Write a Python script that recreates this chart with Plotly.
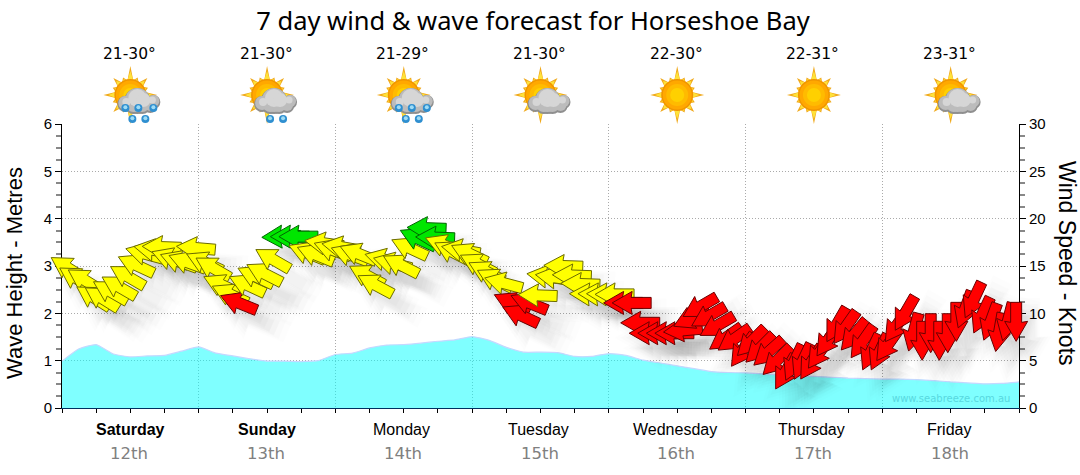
import math
import plotly.graph_objects as go

TITLE = "7 day wind & wave forecast for Horseshoe Bay"
Y_TITLE_LEFT = "Wave Height - Metres"
Y_TITLE_RIGHT = "Wind Speed - Knots"
DAYS = ["Saturday", "Sunday", "Monday", "Tuesday", "Wednesday", "Thursday", "Friday"]
DATES = ["12th", "13th", "14th", "15th", "16th", "17th", "18th"]
TEMPS = ["21-30°", "21-30°", "21-29°", "21-30°", "22-30°", "22-31°", "23-31°"]
ICONS = ["rain", "drizzle", "rain", "cloud", "sun", "sun", "cloud"]

WAVE_HOURS = list(range(0, 169, 3))
WAVE_M = [0.99, 1.25, 1.34, 1.14, 1.08, 1.10, 1.11, 1.20, 1.29, 1.16, 1.10, 1.04, 0.99, 0.99, 0.98, 1.00, 1.13,
          1.16, 1.27, 1.33, 1.34, 1.37, 1.41, 1.44, 1.51, 1.43, 1.28, 1.18, 1.18, 1.17, 1.09, 1.09, 1.15, 1.11,
          1.01, 0.95, 0.89, 0.83, 0.77, 0.75, 0.74, 0.72, 0.70, 0.67, 0.67, 0.65, 0.63, 0.62, 0.61, 0.61, 0.60,
          0.58, 0.55, 0.53, 0.51, 0.52, 0.55]

WIND_HOURS = [1 + 1.5 * i for i in range(112)]
WIND_KT = [14.8, 13.7, 13.5, 11.7, 11.6, 12.3, 12.8, 13.9, 15.1, 16.3, 16.7, 17.0, 15.8, 15.5, 15.4, 16.9,
           15.4, 14.8, 13.0, 12.0, 11.1, 13.0, 13.9, 14.2, 15.7, 18.1, 18.1, 18.1, 16.4, 16.2, 17.4, 16.7,
           17.0, 16.2, 16.3, 14.0, 13.0, 15.7, 15.3, 15.1, 16.9, 17.9, 19.0, 18.0, 17.2, 16.5, 16.7, 16.3,
           15.2, 14.4, 13.6, 13.2, 11.1, 9.8, 11.1, 11.9, 13.9, 13.8, 15.0, 14.0, 13.1, 12.0, 12.0, 12.0,
           12.0, 11.1, 11.1, 9.0, 7.9, 7.9, 7.9, 7.9, 8.2, 9.5, 10.7, 9.7, 8.7, 7.4, 7.3, 6.1,
           7.0, 6.3, 5.9, 5.0, 3.8, 4.8, 4.9, 4.8, 5.9, 7.2, 8.8, 8.5, 7.7, 7.0, 5.9, 5.9,
           6.7, 8.7, 10.0, 8.0, 7.1, 7.9, 7.1, 7.9, 9.1, 10.4, 11.4, 9.8, 9.1, 8.0, 9.1, 9.1]
WIND_HEADING = [302, 302, 302, 302, 302, 300, 300, 300, 295, 285, 280, 272, 290, 290, 290, 275,
                295, 300, 295, 295, 292, 295, 295, 297, 300, 268, 270, 270, 292, 292, 278, 290,
                280, 290, 292, 298, 298, 285, 285, 297, 295, 295, 272, 272, 292, 297, 280, 295,
                297, 297, 297, 285, 295, 295, 292, 272, 278, 278, 272, 272, 272, 272, 272, 272,
                270, 270, 270, 270, 270, 270, 270, 270, 265, 245, 240, 240, 240, 235, 235, 215,
                225, 225, 228, 225, 210, 205, 205, 212, 215, 215, 210, 215, 220, 215, 205, 205,
                215, 215, 210, 195, 180, 180, 180, 180, 180, 200, 205, 205, 200, 190, 195, 180]
WIND_RATING = list("YYYYYYYYYYYYYYYYYYYYRYYYYGGGYYYYYYYYYYYYYGGGYYYYYYYYRRRYYYYYYYYYYRR"
                   + "R" * 45)

HOURS_SPAN = 168
FILLS = {"Y": "#ffff00", "R": "#ff0000", "G": "#00e600"}
EDGES = {"Y": "#6b6b00", "R": "#6a0000", "G": "#006400"}


def arrow_path(heading, scale=1.0, dx=0.0, dy=0.0):
    h = math.radians(heading)
    ux, uy = math.sin(h), math.cos(h)
    vx, vy = uy, -ux
    outline = [(19.5, 0), (-0.5, 11.5), (0.5, 5.5), (-19.5, 5.5), (-19.5, -5.5), (0.5, -5.5), (-0.5, -11.5)]
    pts = [((a * ux + b * vx) * scale + dx, (a * uy + b * vy) * scale + dy) for a, b in outline]
    return "M" + " L".join(f"{x:.1f} {y:.1f}" for x, y in pts) + " Z"


shapes = []

# x is anchored on the paper fraction of the hour axis so arrows at the ends may cross the axis lines
for hr, kt, hd in zip(WIND_HOURS, WIND_KT, WIND_HEADING):
    for sc, op in ((2.0, 0.009), (1.7, 0.011), (1.4, 0.014), (1.12, 0.016)):
        shapes.append(dict(type="path", xref="paper", yref="y2", xsizemode="pixel", ysizemode="pixel",
                           xanchor=hr / HOURS_SPAN, yanchor=kt, path=arrow_path(hd, sc, 13, -15),
                           fillcolor="#000000", opacity=op, line=dict(width=0), layer="above"))

for hr, kt, hd, rt in zip(WIND_HOURS, WIND_KT, WIND_HEADING, WIND_RATING):
    shapes.append(dict(type="path", xref="paper", yref="y2", xsizemode="pixel", ysizemode="pixel",
                       xanchor=hr / HOURS_SPAN, yanchor=kt, path=arrow_path(hd),
                       fillcolor=FILLS[rt], line=dict(color=EDGES[rt], width=1), layer="above"))


def px_shape(day_hour, **kw):
    return dict(xref="x", yref="paper", xsizemode="pixel", ysizemode="pixel",
                xanchor=day_hour, yanchor=1 + 29 / 284, layer="above", **kw)


def disc(day_hour, cx, cy, r, color):
    return px_shape(day_hour, type="circle", x0=cx - r, x1=cx + r, y0=-cy - r, y1=-cy + r,
                    fillcolor=color, line=dict(width=0))


def star(reach, inner):
    pts = []
    for k in range(32):
        a = math.radians(k * 11.25)
        r = reach[(k // 2) % 8] if k % 2 == 0 else inner
        pts.append((r * math.sin(a), r * math.cos(a)))
    return "M" + " L".join(f"{x:.1f} {y:.1f}" for x, y in pts) + " Z"


def add_icon(kind, hr):
    shapes.append(px_shape(hr, type="path", path=star([29, 19, 24, 19, 27, 19, 24, 19], 15),
                           fillcolor="#f0a91c", line=dict(width=0)))
    shapes.append(px_shape(hr, type="path", path=star([24, 17, 20, 17, 22, 17, 20, 17], 15),
                           fillcolor="#ffe23a", line=dict(width=0)))
    for r, c in ((16, "#f09400"), (14.5, "#ffa800"), (11, "#ffbb00"), (7, "#ffd000")):
        shapes.append(disc(hr, 0, 0, r, c))
    if kind == "sun":
        return
    parts = [(7, 5, 12), (23, 6, 6), (-5, 8, 7), (3, 10, 7), (12, 10, 7), (20, 10, 6)]
    for grow, dy, c in ((1, 1, "#8f8f8f"), (0, 0, "#bcbcbc")):
        for cx, cy, r in parts:
            shapes.append(disc(hr, cx, cy + dy, r + grow, c))
    for cx, cy, r in ((7, 3, 9), (22, 5, 3.5), (-4, 7, 4), (13, 5, 7)):
        shapes.append(disc(hr, cx, cy, r, "#d6d6d6"))
    if kind == "rain":
        drops = [(-5, 13), (8, 13), (23, 13), (2, 24), (15, 24)]
    elif kind == "drizzle":
        drops = [(3, 24), (16, 24)]
    else:
        drops = []
    for cx, cy in drops:
        shapes.append(disc(hr, cx, cy, 4, "#2f8fd0"))
        shapes.append(disc(hr, cx, cy - 0.8, 2, "#9fdcf5"))


DAY_CENTRES = [12 + 24 * k for k in range(7)]
for kind, hr in zip(ICONS, DAY_CENTRES):
    add_icon(kind, hr)

anns = []
for i, hr in enumerate(DAY_CENTRES):
    anns.append(dict(x=hr, xref="x", y=1 + 70 / 284, yref="paper", yanchor="middle", text=TEMPS[i], showarrow=False,
                     xshift=-1, font=dict(family="DejaVu Sans", size=15.5, color="#000000")))
    label = f"<b>{DAYS[i]}</b>" if i < 2 else DAYS[i]
    anns.append(dict(x=hr, xref="x", y=-21 / 284, yref="paper", yanchor="middle", text=label, showarrow=False,
                     xshift=0 if i < 2 else -2, font=dict(family="Liberation Sans", size=16, color="#000000")))
    anns.append(dict(x=hr, xref="x", y=-45 / 284, yref="paper", yanchor="middle", text=DATES[i], showarrow=False,
                     xshift=-1, font=dict(family="DejaVu Sans", size=16.5, color="#808080")))


def page_x(px):
    return (px - 62) / 957


anns.append(dict(x=page_x(1012), xref="paper", y=10 / 284, yref="paper", xanchor="right", yanchor="middle",
                 showarrow=False, text="www.seabreeze.com.au",
                 font=dict(family="DejaVu Sans", size=10, color="#58d8e0")))
anns.append(dict(x=page_x(14), xref="paper", y=(408 - 273) / 284, yref="paper", xanchor="center", yanchor="middle",
                 textangle=-90, showarrow=False, text=Y_TITLE_LEFT,
                 font=dict(family="Liberation Sans", size=22, color="#000000")))
anns.append(dict(x=page_x(1067), xref="paper", y=(408 - 263) / 284, yref="paper", xanchor="center", yanchor="middle",
                 textangle=90, showarrow=False, text=Y_TITLE_RIGHT,
                 font=dict(family="Liberation Sans", size=23, color="#000000")))

fig = go.Figure()
fig.add_trace(go.Scatter(x=WAVE_HOURS, y=WAVE_M, mode="lines", fill="tozeroy",
                         line=dict(color="#c4d8ff", width=1.2, shape="spline", smoothing=0.5),
                         fillcolor="rgba(0,255,255,0.5)", hoverinfo="skip", showlegend=False))
fig.add_trace(go.Scatter(x=WIND_HOURS, y=WIND_KT, mode="lines", yaxis="y2",
                         line=dict(width=0), hoverinfo="skip", showlegend=False))

AXFONT = dict(family="Liberation Sans", size=15, color="#000000")
GRID = dict(gridcolor="#aaaaaa", griddash="1px,2px", gridwidth=1)
fig.update_layout(
    width=1080, height=475, autosize=False,
    margin=dict(l=62, r=61, t=124, b=67, autoexpand=False),
    paper_bgcolor="#ffffff", plot_bgcolor="#ffffff",
    title=dict(text=TITLE, x=533 / 1080, xanchor="center", y=1 - 21 / 475, yanchor="middle",
               font=dict(family="Noto Sans", size=25.5, color="#000000")),
    xaxis=dict(range=[0, HOURS_SPAN], tickmode="array", tickvals=[24 * k for k in range(8)], ticktext=[""] * 8,
               ticks="outside", ticklen=9, tickcolor="#000000", tickwidth=1,
               showline=True, linecolor="#003060", linewidth=1, showgrid=True, zeroline=False,
               minor=dict(tickmode="array", tickvals=[6 * k for k in range(29)], ticks="outside", ticklen=4,
                          tickcolor="#000000", tickwidth=1, showgrid=False), **GRID),
    yaxis=dict(range=[0, 6], dtick=1, ticks="outside", ticklen=6, tickcolor="#000000", tickfont=AXFONT,
               showline=True, linecolor="#000000", linewidth=1, zeroline=False,
               minor=dict(dtick=0.25, ticks="outside", ticklen=5, tickcolor="#888888", tickwidth=2, showgrid=False),
               **GRID),
    yaxis2=dict(range=[0, 30], dtick=5, side="right", overlaying="y", ticks="outside", ticklen=6,
                tickcolor="#000000", tickfont=AXFONT, showline=True, linecolor="#000000", linewidth=1,
                showgrid=False, zeroline=False,
                minor=dict(dtick=1.25, ticks="outside", ticklen=5, tickcolor="#888888", tickwidth=2, showgrid=False)),
    shapes=shapes, annotations=anns,
)
fig.write_html("out.html", config=dict(displayModeBar=False), post_script="document.body.style.margin='0';")
